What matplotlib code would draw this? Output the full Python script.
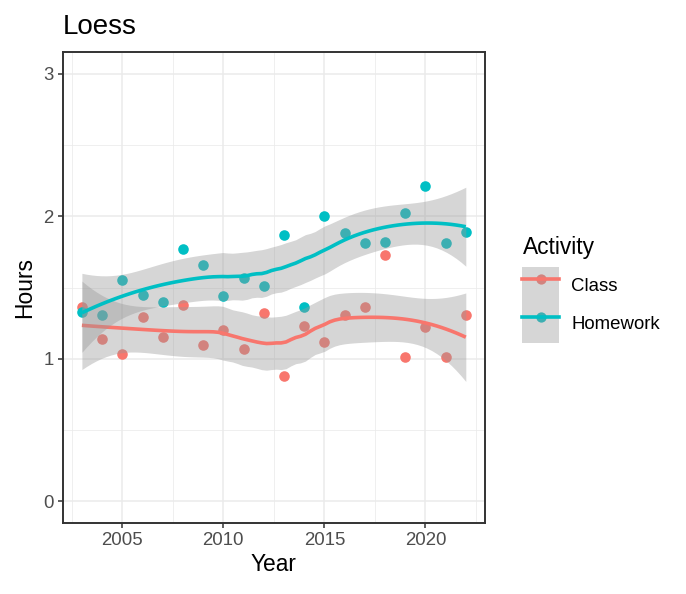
import math
import numpy as np
import matplotlib
matplotlib.use('Agg')
import matplotlib.pyplot as plt
from matplotlib.lines import Line2D
from matplotlib.patches import Patch
from matplotlib.legend_handler import HandlerTuple

plt.rcParams['font.family'] = ['Liberation Sans', 'DejaVu Sans']

# data
years = [2003, 2004, 2005, 2006, 2007, 2008, 2009, 2010, 2011, 2012,
         2013, 2014, 2015, 2016, 2017, 2018, 2019, 2020, 2021, 2022]
class_hours = [1.36, 1.14, 1.03, 1.29, 1.15, 1.38, 1.10, 1.20, 1.07, 1.32,
               0.88, 1.23, 1.12, 1.31, 1.36, 1.73, 1.01, 1.22, 1.01, 1.31]
homework_hours = [1.33, 1.31, 1.55, 1.45, 1.40, 1.77, 1.66, 1.44, 1.57, 1.51,
                  1.87, 1.36, 2.00, 1.88, 1.81, 1.82, 2.02, 2.21, 1.81, 1.89]
activities = ['Class', 'Homework']
colors = {'Class': '#F8766D', 'Homework': '#00BFC4'}

TEXT_SIZE = 13.4
TITLE_SIZE = 16.4
LINE_W = 2.6


def loess_weights(x, x0, span=0.75):
    # one row of the local quadratic smoother (tricube weights)
    n = len(x)
    q = int(np.floor(n * span))
    d = np.abs(x - x0)
    h = np.sort(d)[q - 1]
    u = np.clip(d / h, 0, 1)
    w = (1 - u ** 3) ** 3
    X = np.column_stack([np.ones(n), x - x0, (x - x0) ** 2])
    XtW = X.T * w
    return np.linalg.solve(XtW @ X, XtW)[0]


def t_quantile(p, df):
    c = math.exp(math.lgamma((df + 1) / 2) - math.lgamma(df / 2)) / math.sqrt(df * math.pi)
    t = np.linspace(0, 20, 200001)
    pdf = c * (1 + t ** 2 / df) ** (-(df + 1) / 2)
    cdf = 0.5 + np.concatenate([[0], np.cumsum((pdf[1:] + pdf[:-1]) / 2 * np.diff(t))])
    return float(np.interp(p, cdf, t))


def loess_smooth(x, y, n_out=80, level=0.95):
    x = np.asarray(x, float)
    y = np.asarray(y, float)
    n = len(x)
    L = np.array([loess_weights(x, xi) for xi in x])
    resid = y - L @ y
    M = (np.eye(n) - L).T @ (np.eye(n) - L)
    one_delta = np.trace(M)
    two_delta = np.trace(M @ M)
    sigma = math.sqrt(np.sum(resid ** 2) / one_delta)
    df = one_delta ** 2 / two_delta
    xs = np.linspace(x.min(), x.max(), n_out)
    rows = np.array([loess_weights(x, x0) for x0 in xs])
    fit = rows @ y
    se = sigma * np.sqrt(np.sum(rows ** 2, axis=1))
    tq = t_quantile(0.5 + level / 2, df)
    return xs, fit, fit - tq * se, fit + tq * se


fig = plt.figure(figsize=(6.86, 5.94), dpi=100)
ax = fig.add_axes([62.7 / 686, 71.3 / 594, 422.3 / 686, 470.4 / 594])

series = {'Class': class_hours, 'Homework': homework_hours}

# points first, then ribbon + line per group (ggplot layer order)
for act in activities:
    ax.scatter(years, series[act], s=58, color=colors[act], linewidths=0, zorder=2)
for act in activities:
    xs, fit, lo, hi = loess_smooth(years, series[act])
    ax.fill_between(xs, lo, hi, color='#999999', alpha=0.4, linewidth=0, zorder=3)
    ax.plot(xs, fit, color=colors[act], linewidth=LINE_W, zorder=3, solid_capstyle='butt')

ax.set_xlim(2002.05, 2022.95)
ax.set_ylim(-0.15, 3.15)
ax.set_xticks([2005, 2010, 2015, 2020])
ax.set_xticks([2002.5, 2007.5, 2012.5, 2017.5, 2022.5], minor=True)
ax.set_yticks([0, 1, 2, 3])
ax.set_yticks([0.5, 1.5, 2.5], minor=True)
ax.grid(True, which='major', color='#EBEBEB', linewidth=1.1, zorder=0)
ax.grid(True, which='minor', color='#EBEBEB', linewidth=0.55, zorder=0)
ax.set_axisbelow(True)
for sp in ax.spines.values():
    sp.set_color('#333333')
    sp.set_linewidth(1.4)
ax.tick_params(which='major', length=3.6, width=1.1, color='#333333',
               labelsize=TEXT_SIZE, labelcolor='#4D4D4D', pad=3)
ax.tick_params(which='minor', length=0)

ax.set_xlabel('Year', fontsize=TITLE_SIZE, labelpad=3)
ax.set_ylabel('Hours', fontsize=TITLE_SIZE, labelpad=5)

fig.text(62.7 / 686, 1 - 34.3 / 594, 'Loess', fontsize=20, ha='left', va='baseline')

# legend: title as plain text, keys with grey band behind
fig.text(522.7 / 686, 1 - 254.3 / 594, 'Activity', fontsize=TITLE_SIZE,
         ha='left', va='baseline')
handles = []
for act in activities:
    pt = Line2D([], [], linestyle='none', marker='o', markersize=7.4,
                markerfacecolor=colors[act], markeredgewidth=0)
    bg = Patch(facecolor='#999999', alpha=0.4, linewidth=0)
    ln = Line2D([], [], color=colors[act], linewidth=LINE_W)
    handles.append((pt, bg, ln))
fig.legend(handles, activities, loc='upper left',
           bbox_to_anchor=(522 / 686, 1 - 266.7 / 594),
           frameon=False, fontsize=TEXT_SIZE, borderpad=0, borderaxespad=0,
           labelspacing=0, handleheight=2.765, handlelength=2.0,
           handletextpad=0.645, handler_map={tuple: HandlerTuple(ndivide=1)})

fig.savefig('out.png', dpi=100)
